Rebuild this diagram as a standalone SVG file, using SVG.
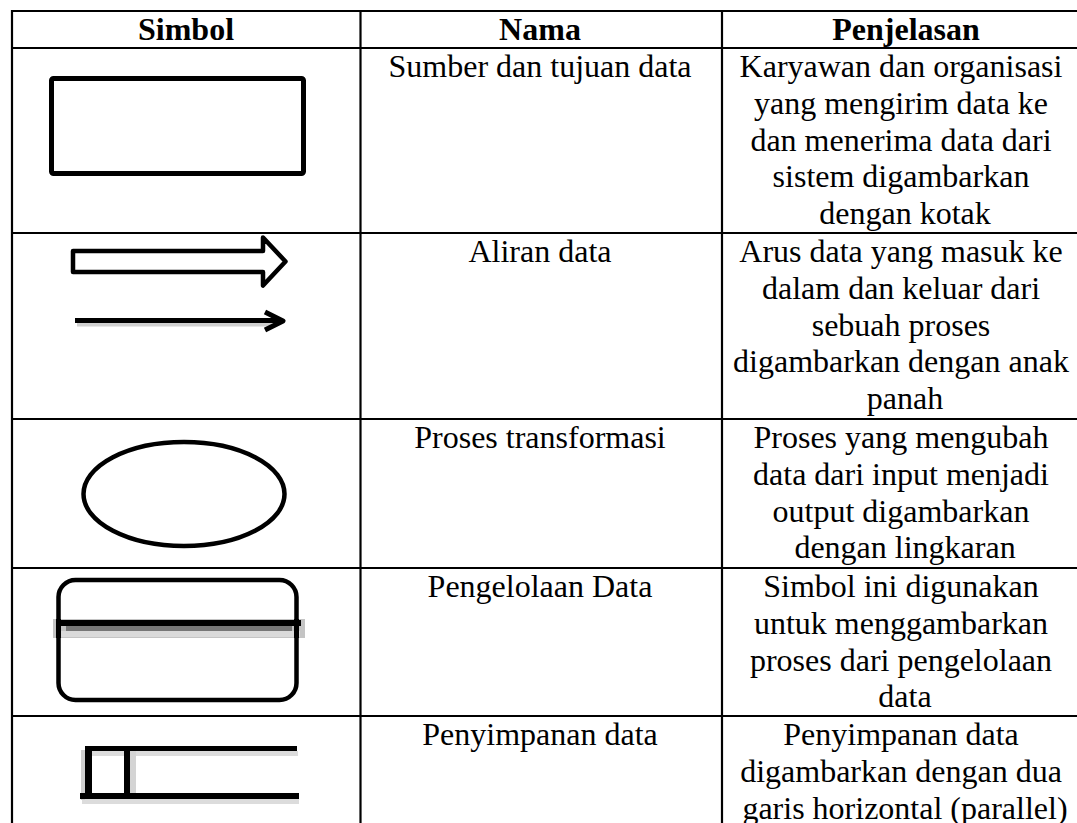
<svg xmlns="http://www.w3.org/2000/svg" width="1077" height="823" viewBox="0 0 1077 823">
  <style>
    .grid { stroke: #000; stroke-width: 2.2; fill: none; }
    .hd { font-family: "Liberation Serif", "Times New Roman", serif; font-size: 32px; font-weight: bold; fill: #000; text-anchor: middle; }
    .tx { font-family: "Liberation Serif", "Times New Roman", serif; font-size: 32px; fill: #000; text-anchor: middle; }
    .sym { stroke: #000; fill: none; stroke-linejoin: round; }
  </style>
  <rect width="1077" height="823" fill="#fff"/>

  <!-- table grid -->
  <g id="grid" class="grid">
    <line x1="12" y1="11" x2="1077" y2="11"/>
    <line x1="12" y1="48" x2="1077" y2="48"/>
    <line x1="12" y1="233" x2="1077" y2="233"/>
    <line x1="12" y1="419" x2="1077" y2="419"/>
    <line x1="12" y1="568" x2="1077" y2="568"/>
    <line x1="12" y1="716" x2="1077" y2="716"/>
    <line x1="12" y1="10" x2="12" y2="823"/>
    <line x1="360.5" y1="10" x2="360.5" y2="823"/>
    <line x1="722" y1="10" x2="722" y2="823"/>
  </g>

  <!-- header row -->
  <g id="header">
    <text class="hd" x="186" y="40">Simbol</text>
    <text class="hd" x="540" y="40">Nama</text>
    <text class="hd" x="906" y="40">Penjelasan</text>
  </g>

  <!-- row 1: source / destination -->
  <g id="row-source">
    <rect class="sym" x="51.5" y="78.5" width="252" height="95" rx="2" stroke-width="5"/>
    <text class="tx" x="540" y="77">Sumber dan tujuan data</text>
    <text class="tx" y="77">
      <tspan x="905">Karyawan dan organisasi</tspan>
      <tspan x="905" dy="36.8">yang mengirim data ke</tspan>
      <tspan x="905" dy="36.8">dan menerima data dari</tspan>
      <tspan x="905" dy="36.8">sistem digambarkan</tspan>
      <tspan x="905" dy="36.8">dengan kotak</tspan>
    </text>
  </g>

  <!-- row 2: data flow -->
  <g id="row-flow">
    <path class="sym" stroke-width="4.5" d="M73,251 L263,251 L263,237.5 L285.5,261.5 L263,285.5 L263,272 L73,272 Z"/>
    <line x1="77" y1="324.5" x2="276" y2="324.5" stroke="#d0d0d0" stroke-width="4"/>
    <line x1="75" y1="320.5" x2="280" y2="320.5" stroke="#000" stroke-width="5"/>
    <path class="sym" stroke-width="5" d="M265,312 L283,321 L265,330"/>
    <text class="tx" x="540" y="262">Aliran data</text>
    <text class="tx" y="262">
      <tspan x="905">Arus data yang masuk ke</tspan>
      <tspan x="905" dy="36.8">dalam dan keluar dari</tspan>
      <tspan x="905" dy="36.8">sebuah proses</tspan>
      <tspan x="905" dy="36.8">digambarkan dengan anak</tspan>
      <tspan x="905" dy="36.8">panah</tspan>
    </text>
  </g>

  <!-- row 3: transformation process -->
  <g id="row-process">
    <ellipse class="sym" cx="184" cy="494" rx="100.5" ry="52" stroke-width="4.5"/>
    <text class="tx" x="540" y="448">Proses transformasi</text>
    <text class="tx" y="448">
      <tspan x="905">Proses yang mengubah</tspan>
      <tspan x="905" dy="36.8">data dari input menjadi</tspan>
      <tspan x="905" dy="36.8">output digambarkan</tspan>
      <tspan x="905" dy="36.8">dengan lingkaran</tspan>
    </text>
  </g>

  <!-- row 4: data processing -->
  <g id="row-processing">
    <rect class="sym" x="58.5" y="580" width="238" height="120" rx="17" stroke-width="4.5"/>
    <rect x="53" y="619" width="252" height="19" fill="#c4c4c4"/>
    <rect x="60" y="631" width="240" height="6" fill="#dadada"/>
    <rect x="66" y="626" width="226" height="5" fill="#777"/>
    <rect x="56" y="620" width="245" height="6" fill="#000"/>
    <rect x="56" y="619" width="5" height="19" fill="#000"/>
    <rect x="294" y="619" width="5" height="19" fill="#000"/>
    <text class="tx" x="540" y="597">Pengelolaan Data</text>
    <text class="tx" y="597">
      <tspan x="905">Simbol ini digunakan</tspan>
      <tspan x="905" dy="36.8">untuk menggambarkan</tspan>
      <tspan x="905" dy="36.8">proses dari pengelolaan</tspan>
      <tspan x="905" dy="36.8">data</tspan>
    </text>
  </g>

  <!-- row 5: data store -->
  <g id="row-store">
    <rect x="92" y="751" width="206" height="5" fill="#dcdcdc"/>
    <rect x="82" y="799" width="217" height="5" fill="#dcdcdc"/>
    <rect x="81" y="750" width="4" height="50" fill="#cfcfcf"/>
    <rect x="130" y="751" width="6" height="43" fill="#d4d4d4"/>
    <rect x="87" y="746" width="210" height="5" fill="#000"/>
    <rect x="80" y="793" width="219" height="6" fill="#000"/>
    <rect x="85" y="746" width="7" height="53" fill="#000"/>
    <rect x="124" y="749" width="6" height="50" fill="#000"/>
    <text class="tx" x="540" y="745">Penyimpanan data</text>
    <text class="tx" y="745">
      <tspan x="905">Penyimpanan data</tspan>
      <tspan x="905" dy="36.8">digambarkan dengan dua</tspan>
      <tspan x="905" dy="36.8">garis horizontal (parallel)</tspan>
    </text>
  </g>
</svg>
